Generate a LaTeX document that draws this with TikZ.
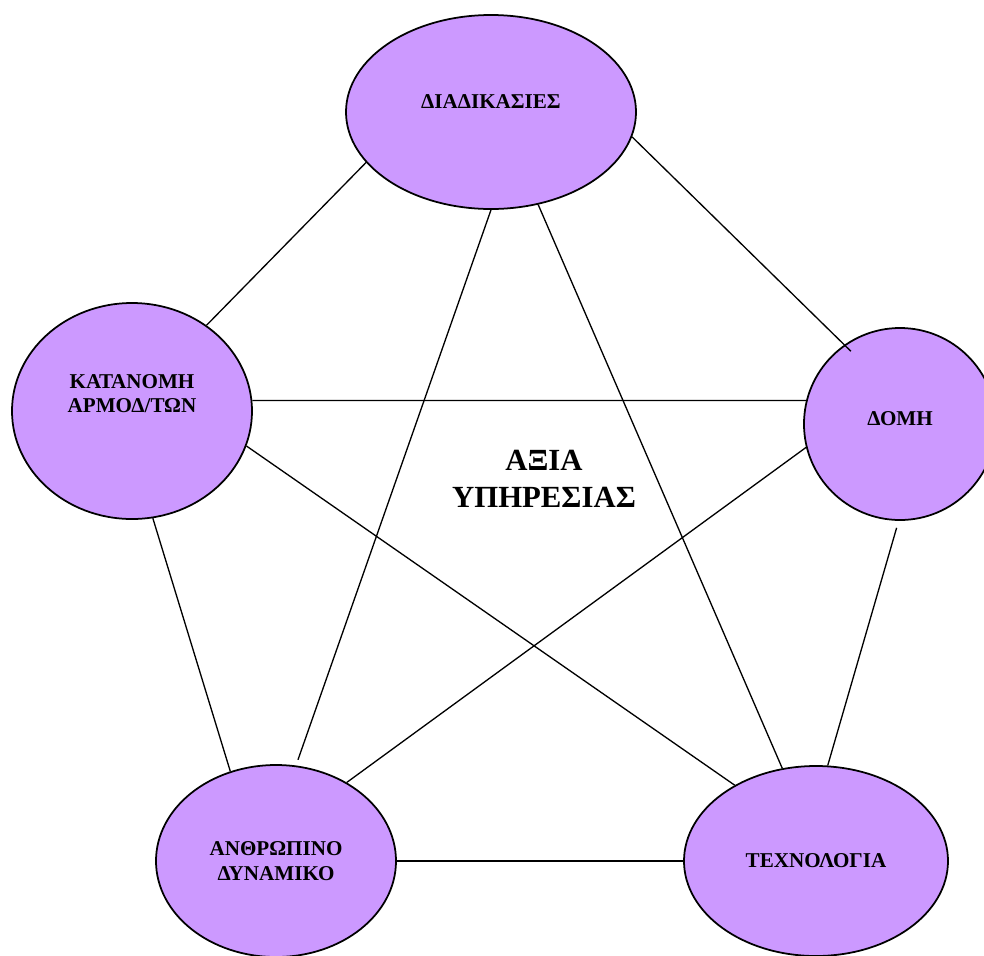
\documentclass[tikz,border=0pt]{standalone}
\usepackage{fontspec}
\setmainfont{Liberation Serif}
\usetikzlibrary{shapes.geometric}
\definecolor{lavender}{RGB}{204,153,255}
\tikzset{every factor/.style={ellipse, draw=black, line width=1pt, fill=lavender,
                              inner sep=0pt, align=center,
                              font=\fontsize{12}{14}\selectfont\bfseries},
        link/.style={draw=black, line width=0.75pt},
        }

\begin{document}
\begin{tikzpicture}
    \useasboundingbox (0,0) rectangle (19.68,-19.10);

    \node[every factor, minimum width=5.80cm, minimum height=3.88cm, text depth=12pt]
        (proc) at (9.82,-2.24) {ΔΙΑΔΙΚΑΣΙΕΣ};
    \node[every factor, minimum width=4.80cm, minimum height=4.32cm, text depth=20pt]
        (roles) at (2.64,-8.22) {ΚΑΤΑΝΟΜΗ\\ΑΡΜΟΔ/ΤΩΝ};
    \node[every factor, minimum width=3.84cm, minimum height=3.84cm, text depth=6pt]
        (struct) at (18.00,-8.48) {ΔΟΜΗ};
    \node[every factor, minimum width=4.80cm, minimum height=3.84cm]
        (people) at (5.52,-17.22) {ΑΝΘΡΩΠΙΝΟ\\ΔΥΝΑΜΙΚΟ};
    \node[every factor, minimum width=5.28cm, minimum height=3.80cm]
        (tech) at (16.32,-17.22) {ΤΕΧΝΟΛΟΓΙΑ};

    \node[align=center, font=\fontsize{17.5}{21}\selectfont\bfseries]
        (value) at (10.88,-9.58) {ΑΞΙΑ\hspace{1em}\\ΥΠΗΡΕΣΙΑΣ};

    % links between the factors
    \draw[link] (proc.202) -- (roles.49);
    \draw[link] (proc.-10) -- ([shift={(0.1,-0.15)}]struct.124);
    \draw[link] (proc.-90) -- ([yshift=0.12cm]people.77);
    \draw[link] (proc.-63) -- (tech.110);
    \draw[link] (roles.5) -- (struct.166);
    \draw[link] (roles.-17) -- (tech.137);
    \draw[link] (roles.-79) -- (people.117);
    \draw[link] (struct.194) -- (people.48);
    \draw[link] ([yshift=-0.14cm]struct.-92) -- (tech.83);
    \draw[link] (people.east) -- (tech.west);
\end{tikzpicture}
\end{document}
